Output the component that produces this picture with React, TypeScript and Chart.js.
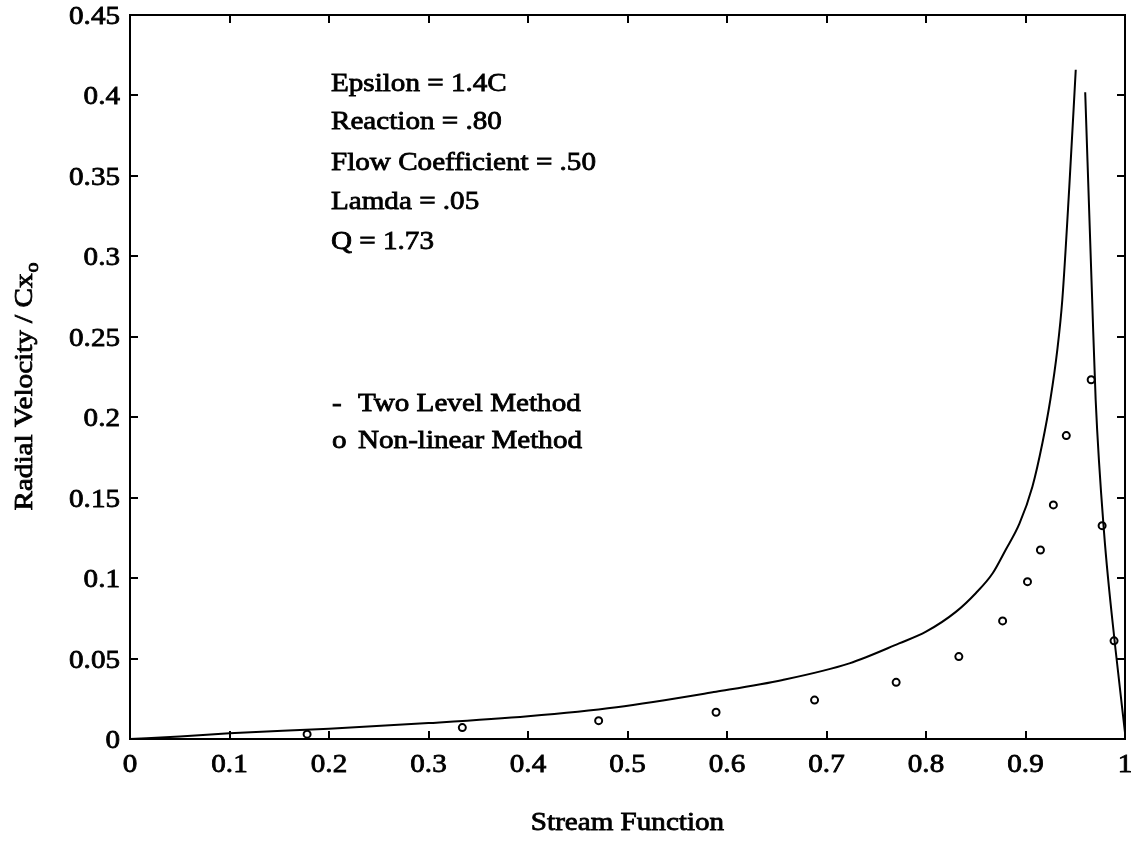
import React, { useEffect, useRef } from "react";
import { Chart, registerables } from "chart.js";

Chart.register(...registerables);

// Two Level Method curve (a null splits the two branches at the peak)
const streamFn: (number | null)[] = [
  0, 0.05, 0.1, 0.2, 0.3, 0.4, 0.489, 0.589, 0.656, 0.723, 0.773, 0.8, 0.83,
  0.85, 0.867, 0.88, 0.894, 0.907, 0.917, 0.925, 0.932, 0.937, 0.944, 0.9505,
  null, 0.96, 0.967, 0.9705, 0.979, 0.9906, 1.0,
];
const twoLevel: (number | null)[] = [
  0, 0.0016, 0.0035, 0.0064, 0.0099, 0.0142, 0.0198, 0.0294, 0.0367, 0.047,
  0.0594, 0.0667, 0.079, 0.0906, 0.103, 0.1175, 0.134, 0.157, 0.184, 0.211,
  0.242, 0.273, 0.343, 0.416, null, 0.402, 0.273, 0.211, 0.128, 0.055, 0.004,
];

// Non-linear Method points
const nlStream: number[] = [
  0.178, 0.334, 0.471, 0.589, 0.688, 0.77, 0.833, 0.877, 0.902, 0.915, 0.928,
  0.941, 0.966, 0.977, 0.989,
];
const nonLinear: number[] = [
  0.003, 0.0071, 0.0114, 0.0166, 0.0242, 0.0352, 0.0512, 0.0734, 0.0978,
  0.1175, 0.1455, 0.1886, 0.2233, 0.1326, 0.061,
];

const xTickStep = 0.1;
const yTickStep = 0.05;
const yMax = 0.45;

const parameterLines: string[] = [
  "Epsilon = 1.4C",
  "Reaction = .80",
  "Flow Coefficient = .50",
  "Lamda = .05",
  "Q = 1.73",
];
const legendMarks: string[] = ["-", "o"];
const legendLabels: string[] = ["Two Level Method", "Non-linear Method"];

const FONT = '"Liberation Serif", "Times New Roman", serif';
const SIZE = 26;
const SUB = 18;
const WIDEN = 1.12; // the typeface is set a little wider than Times
const INK = 0.8;

const fmt = (v: number) => String(Number(v.toFixed(2)));

// draws widened, slightly heavy text anchored at (x, y)
function text(
  ctx: CanvasRenderingContext2D,
  s: string,
  x: number,
  y: number,
  align: "left" | "center" | "right" = "left",
  size = SIZE
) {
  ctx.save();
  ctx.font = `${size}px ${FONT}`;
  ctx.translate(x, y);
  ctx.scale(WIDEN, 1);
  ctx.textAlign = align;
  ctx.fillText(s, 0, 0);
  ctx.strokeText(s, 0, 0);
  ctx.restore();
}

function textWidth(ctx: CanvasRenderingContext2D, s: string, size = SIZE) {
  ctx.save();
  ctx.font = `${size}px ${FONT}`;
  const w = ctx.measureText(s).width * WIDEN;
  ctx.restore();
  return w;
}

const frame = {
  id: "frame",
  afterDraw(chart: any) {
    const { ctx, chartArea: a, scales } = chart;
    ctx.save();
    ctx.strokeStyle = "#000";
    ctx.lineWidth = 2;
    ctx.strokeRect(a.left, a.top, a.right - a.left, a.bottom - a.top);

    // inward ticks on all four sides
    const L = 8;
    ctx.beginPath();
    scales.x.ticks.forEach((t: any) => {
      const px = Math.round(scales.x.getPixelForValue(t.value));
      ctx.moveTo(px, a.bottom);
      ctx.lineTo(px, a.bottom - L);
      ctx.moveTo(px, a.top);
      ctx.lineTo(px, a.top + L);
    });
    scales.y.ticks.forEach((t: any) => {
      const py = Math.round(scales.y.getPixelForValue(t.value));
      ctx.moveTo(a.left, py);
      ctx.lineTo(a.left + L, py);
      ctx.moveTo(a.right, py);
      ctx.lineTo(a.right - L, py);
    });
    ctx.stroke();

    ctx.fillStyle = "#000";
    ctx.lineWidth = INK;
    ctx.textBaseline = "alphabetic";

    // tick labels
    scales.x.ticks.forEach((t: any) => {
      const px = scales.x.getPixelForValue(t.value);
      text(ctx, fmt(t.value), px, a.bottom + 33, "center");
    });
    scales.y.ticks.forEach((t: any) => {
      const py = scales.y.getPixelForValue(t.value);
      text(ctx, fmt(t.value), a.left - 10, py + 9, "right");
    });

    // run parameters
    const baselines = [91, 129, 170, 209, 249];
    parameterLines.forEach((s, i) => text(ctx, s, 331, baselines[i]));

    // text legend
    const lb = [411, 448];
    legendLabels.forEach((s, i) => {
      text(ctx, legendMarks[i], 332, lb[i]);
      text(ctx, s, 358, lb[i]);
    });

    // x axis title
    text(ctx, "Stream Function", (a.left + a.right) / 2, 830, "center");

    // y axis title with subscript
    ctx.save();
    ctx.translate(32, 387);
    ctx.rotate(-Math.PI / 2);
    const main = "Radial Velocity / Cx";
    const w = textWidth(ctx, main);
    const ws = textWidth(ctx, "o", SUB);
    const start = -(w + ws) / 2;
    text(ctx, main, start, 0);
    text(ctx, "o", start + w + 1, 6, "left", SUB);
    ctx.restore();

    ctx.restore();
  },
};

export default function App() {
  const ref = useRef<HTMLCanvasElement | null>(null);

  useEffect(() => {
    if (!ref.current) return;
    const curve = streamFn.map((x, i) =>
      x === null ? { x: NaN, y: NaN } : { x, y: twoLevel[i] as number }
    );
    const pts = nlStream.map((x, i) => ({ x, y: nonLinear[i] }));

    const chart = new Chart(ref.current, {
      type: "scatter",
      data: {
        datasets: [
          {
            label: "Two Level Method",
            data: curve as any,
            showLine: true,
            spanGaps: false,
            borderColor: "#000",
            borderWidth: 2,
            pointRadius: 0,
            cubicInterpolationMode: "monotone",
          },
          {
            label: "Non-linear Method",
            data: pts,
            showLine: false,
            pointStyle: "circle",
            pointRadius: 3.5,
            borderColor: "#000",
            borderWidth: 2,
            backgroundColor: "rgba(255,255,255,0)",
          },
        ],
      },
      options: {
        animation: false,
        responsive: false,
        maintainAspectRatio: false,
        layout: { padding: { top: 15, right: 5, left: 0, bottom: 0 } },
        plugins: {
          legend: { display: false },
          tooltip: { enabled: false },
        },
        scales: {
          x: {
            type: "linear",
            min: 0,
            max: 1,
            ticks: { stepSize: xTickStep, display: false },
            grid: { display: false, drawTicks: false },
            border: { display: false },
            afterFit(scale: any) {
              scale.height = 104;
              scale.paddingLeft = 0;
              scale.paddingRight = 0;
            },
          },
          y: {
            type: "linear",
            min: 0,
            max: yMax,
            ticks: { stepSize: yTickStep, display: false },
            grid: { display: false, drawTicks: false },
            border: { display: false },
            afterFit(scale: any) {
              scale.width = 130;
              scale.paddingTop = 0;
              scale.paddingBottom = 0;
            },
          },
        },
      },
      plugins: [frame],
    });
    return () => chart.destroy();
  }, []);

  return (
    <div
      style={{
        position: "fixed",
        left: 0,
        top: 0,
        width: 1131,
        height: 843,
        background: "#fff",
      }}
    >
      <canvas ref={ref} width={1131} height={843} />
    </div>
  );
}
